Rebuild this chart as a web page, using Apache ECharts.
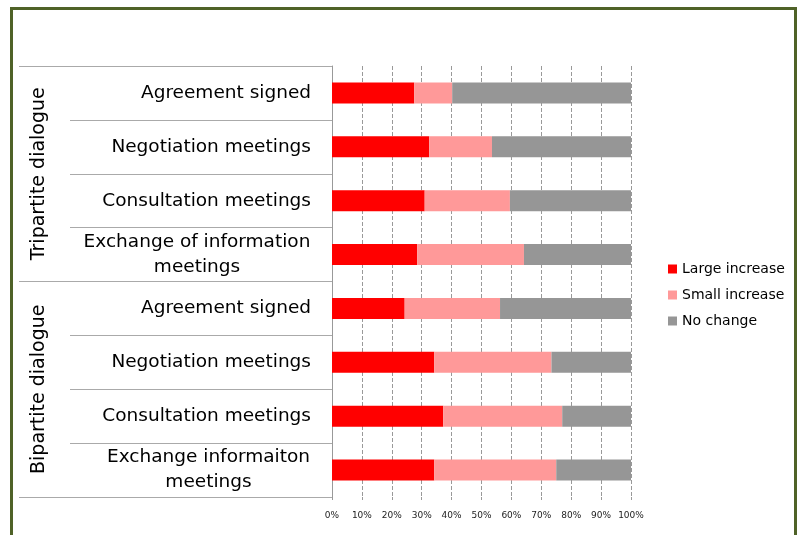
<!DOCTYPE html>
<html>
<head>
<meta charset="utf-8">
<script src="https://cdn.jsdelivr.net/npm/echarts@6/dist/echarts.min.js"></script>
<style>
  html, body { margin: 0; padding: 0; background: #fff; }
  #main { width: 799px; height: 535px; }
</style>
</head>
<body>
<div id="main"></div>
<script>
// categories, top to bottom
var categories = [
  "Agreement signed",
  "Negotiation meetings",
  "Consultation meetings",
  "Exchange of information\nmeetings",
  "Agreement signed",
  "Negotiation meetings",
  "Consultation meetings",
  "Exchange informaiton\nmeetings"
];
var groups = ["Tripartite dialogue", "Bipartite dialogue"];

// percent values
var largeIncrease = [27.5, 32.5, 31.0, 28.5, 24.3, 34.2, 37.2, 34.2];
var smallIncrease = [12.7, 21.0, 28.5, 35.7, 31.9, 39.2, 39.8, 40.8];
var noChange = [59.8, 46.5, 40.5, 35.8, 43.8, 26.6, 23.0, 25.0];

var fontName = "DejaVu Sans";
var labelSize = 18.5;

// two-line labels: centre the lines on each other, block stays right aligned
var ctx = document.createElement("canvas").getContext("2d");
ctx.font = labelSize + "px '" + fontName + "'";
var richStyles = {};
categories.forEach(function (name, i) {
  if (name.indexOf("\n") >= 0) {
    var w = 0;
    name.split("\n").forEach(function (line) {
      w = Math.max(w, ctx.measureText(line).width);
    });
    richStyles["c" + i] = {
      width: Math.ceil(w) + 1,
      align: "center",
      fontSize: labelSize,
      fontFamily: fontName,
      color: "#000",
      lineHeight: 25
    };
  }
});

var chart = echarts.init(document.getElementById("main"));

var option = {
  backgroundColor: "#fff",
  animation: false,
  textStyle: { fontFamily: fontName },
  color: ["#ff0000", "#ff9999", "#969696"],
  graphic: [
    {
      type: "rect",
      shape: { x: 11.5, y: 8.5, width: 784, height: 540 },
      style: { fill: "none", stroke: "#4f6228", lineWidth: 3 },
      silent: true
    }
  ],
  legend: {
    orient: "vertical",
    left: 663,
    top: 257,
    itemWidth: 9,
    itemHeight: 9,
    itemGap: 12,
    icon: "rect",
    textStyle: { fontSize: 14, color: "#000", fontFamily: fontName }
  },
  grid: {
    left: 332,
    right: 168,
    top: 66,
    bottom: 38
  },
  xAxis: {
    type: "value",
    min: 0,
    max: 100,
    interval: 10,
    axisLine: { show: false },
    axisTick: {
      show: true,
      length: 3,
      lineStyle: { color: "#999", type: "dashed" }
    },
    axisLabel: {
      formatter: "{value}%",
      fontSize: 9,
      color: "#222",
      margin: 14
    },
    splitLine: {
      show: true,
      lineStyle: { color: "#999", type: "dashed", width: 1 }
    }
  },
  yAxis: [
    {
      type: "category",
      data: categories,
      inverse: true,
      axisLine: { show: true, lineStyle: { color: "#999", width: 1 } },
      axisTick: {
        show: true,
        interval: 0,
        length: 262,
        lineStyle: { color: "#aaa", width: 1 }
      },
      axisLabel: {
        interval: 0,
        hideOverlap: false,
        fontSize: labelSize,
        color: "#000",
        margin: 21,
        lineHeight: 25,
        align: "right",
        formatter: function (value, idx) {
          if (value.indexOf("\n") < 0) return value;
          return value.split("\n").map(function (line) {
            return "{c" + idx + "|" + line + "}";
          }).join("\n");
        },
        rich: richStyles
      }
    },
    {
      type: "category",
      data: groups,
      inverse: true,
      position: "left",
      axisLine: { show: false },
      axisTick: {
        show: true,
        interval: 0,
        length: 313,
        lineStyle: { color: "#aaa", width: 1 }
      },
      axisLabel: {
        interval: 0,
        hideOverlap: false,
        fontSize: 19,
        color: "#000",
        rotate: 90,
        margin: 283
      }
    }
  ],
  series: [
    {
      name: "Large increase",
      type: "bar",
      stack: "total",
      barWidth: 21,
      data: largeIncrease
    },
    {
      name: "Small increase",
      type: "bar",
      stack: "total",
      barWidth: 21,
      data: smallIncrease
    },
    {
      name: "No change",
      type: "bar",
      stack: "total",
      barWidth: 21,
      data: noChange
    }
  ]
};

chart.setOption(option, true);
</script>
</body>
</html>
